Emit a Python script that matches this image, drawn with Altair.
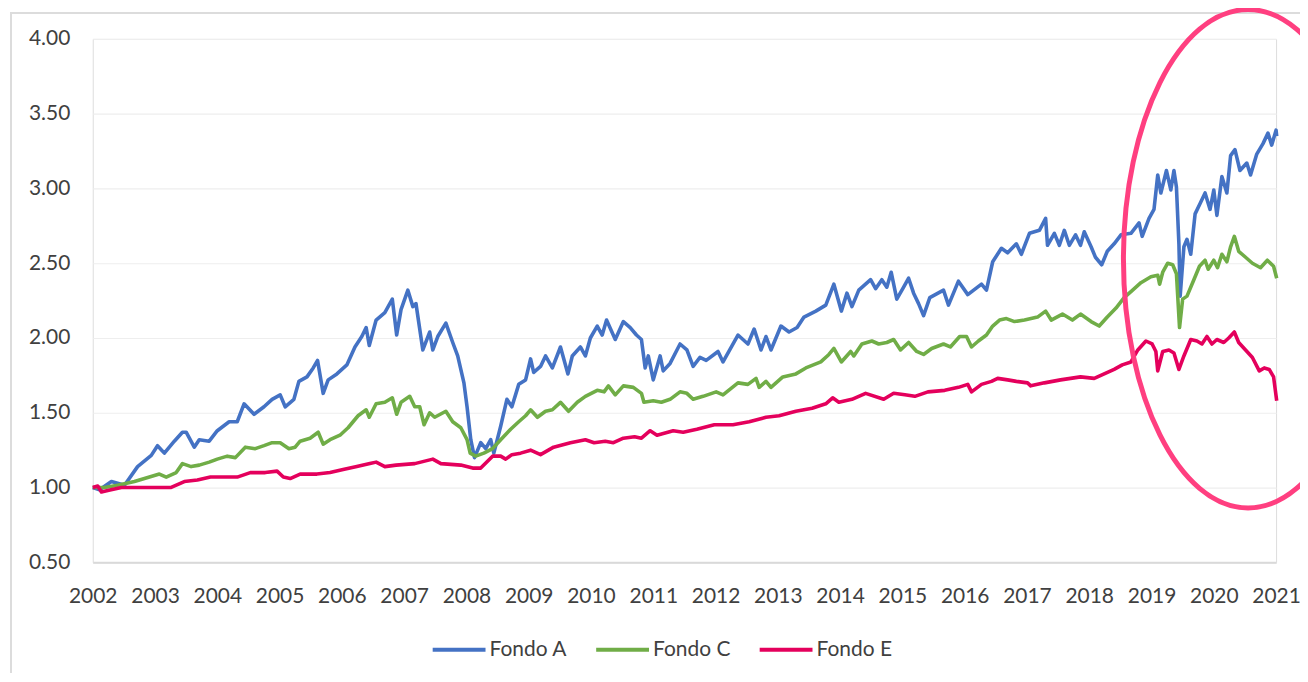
import altair as alt
import pandas as pd

# ---------------- data ----------------
series_names = ["Fondo A", "Fondo C", "Fondo E"]
series_colors = ["#4472C4", "#70AD47", "#E4005C"]

years_a = [2002.00, 2002.11, 2002.30, 2002.51, 2002.72, 2002.94, 2003.04, 2003.15, 2003.31, 2003.44,
           2003.50, 2003.63, 2003.71, 2003.87, 2004.00, 2004.19, 2004.32, 2004.43, 2004.59, 2004.75,
           2004.88, 2005.01, 2005.09, 2005.23, 2005.31, 2005.44, 2005.54, 2005.61, 2005.70, 2005.78,
           2005.92, 2006.08, 2006.21, 2006.32, 2006.39, 2006.44, 2006.55, 2006.69, 2006.81, 2006.88,
           2006.95, 2007.06, 2007.14, 2007.19, 2007.30, 2007.41, 2007.46, 2007.54, 2007.67, 2007.78,
           2007.86, 2007.96, 2008.01, 2008.07, 2008.13, 2008.23, 2008.31, 2008.39, 2008.44, 2008.55,
           2008.65, 2008.73, 2008.84, 2008.95, 2009.03, 2009.08, 2009.19, 2009.27, 2009.38, 2009.51,
           2009.63, 2009.70, 2009.83, 2009.91, 2009.99, 2010.10, 2010.18, 2010.25, 2010.39, 2010.52,
           2010.63, 2010.73, 2010.81, 2010.87, 2010.92, 2011.00, 2011.11, 2011.16, 2011.27, 2011.43,
           2011.54, 2011.64, 2011.75, 2011.85, 2012.04, 2012.12, 2012.36, 2012.52, 2012.62, 2012.73,
           2012.81, 2012.89, 2013.05, 2013.18, 2013.31, 2013.42, 2013.61, 2013.77, 2013.90, 2014.02,
           2014.11, 2014.19, 2014.30, 2014.49, 2014.57, 2014.67, 2014.75, 2014.82, 2014.91, 2015.02,
           2015.10, 2015.18, 2015.26, 2015.34, 2015.44, 2015.66, 2015.74, 2015.90, 2016.05, 2016.27,
           2016.35, 2016.45, 2016.59, 2016.69, 2016.83, 2016.91, 2017.04, 2017.20, 2017.30, 2017.33,
           2017.44, 2017.52, 2017.60, 2017.68, 2017.78, 2017.86, 2017.92, 2018.03, 2018.10, 2018.20,
           2018.29, 2018.40, 2018.51, 2018.67, 2018.80, 2018.85, 2018.96, 2019.04, 2019.10, 2019.15,
           2019.24, 2019.31, 2019.36, 2019.40, 2019.44, 2019.46, 2019.52, 2019.57, 2019.63, 2019.70,
           2019.78, 2019.86, 2019.94, 2020.00, 2020.05, 2020.13, 2020.21, 2020.27, 2020.34, 2020.42,
           2020.53, 2020.59, 2020.69, 2020.79, 2020.87, 2020.93, 2021.00, 2021.01]
vals_a = [1.00, 0.985, 1.04, 1.015, 1.14, 1.215, 1.28, 1.23, 1.31, 1.37,
          1.37, 1.27, 1.32, 1.31, 1.38, 1.44, 1.44, 1.56, 1.49, 1.54,
          1.59, 1.62, 1.54, 1.59, 1.71, 1.74, 1.80, 1.85, 1.63, 1.72,
          1.76, 1.82, 1.94, 2.01, 2.07, 1.95, 2.12, 2.17, 2.26, 2.02,
          2.19, 2.32, 2.21, 2.23, 1.92, 2.04, 1.92, 2.01, 2.10, 1.97,
          1.88, 1.70, 1.54, 1.32, 1.20, 1.30, 1.26, 1.32, 1.23, 1.41,
          1.59, 1.54, 1.69, 1.72, 1.86, 1.77, 1.81, 1.88, 1.80, 1.94,
          1.76, 1.88, 1.94, 1.88, 2.00, 2.08, 2.02, 2.12, 1.99, 2.11,
          2.07, 2.02, 1.99, 1.80, 1.88, 1.72, 1.88, 1.78, 1.83, 1.96,
          1.92, 1.81, 1.87, 1.85, 1.91, 1.84, 2.02, 1.96, 2.06, 1.92,
          2.01, 1.92, 2.08, 2.04, 2.07, 2.14, 2.18, 2.22, 2.36, 2.18,
          2.30, 2.21, 2.32, 2.39, 2.33, 2.39, 2.34, 2.44, 2.26, 2.34,
          2.40, 2.30, 2.23, 2.15, 2.27, 2.32, 2.22, 2.38, 2.29, 2.36,
          2.32, 2.51, 2.60, 2.57, 2.63, 2.56, 2.70, 2.72, 2.80, 2.62,
          2.70, 2.62, 2.72, 2.62, 2.69, 2.62, 2.71, 2.61, 2.54, 2.49,
          2.58, 2.63, 2.69, 2.70, 2.77, 2.68, 2.80, 2.86, 3.09, 2.97,
          3.12, 2.99, 3.12, 3.01, 2.63, 2.28, 2.61, 2.66, 2.56, 2.83,
          2.90, 2.97, 2.86, 2.99, 2.82, 3.08, 2.97, 3.22, 3.26, 3.12,
          3.17, 3.09, 3.23, 3.30, 3.37, 3.29, 3.39, 3.35]

years_c = [2002.00, 2002.19, 2002.40, 2002.67, 2002.91, 2003.07, 2003.18, 2003.34, 2003.44, 2003.58,
           2003.71, 2003.87, 2004.00, 2004.16, 2004.29, 2004.45, 2004.61, 2004.75, 2004.88, 2005.01,
           2005.15, 2005.25, 2005.33, 2005.49, 2005.62, 2005.70, 2005.81, 2005.97, 2006.10, 2006.26,
           2006.39, 2006.44, 2006.55, 2006.69, 2006.81, 2006.88, 2006.95, 2007.09, 2007.17, 2007.25,
           2007.32, 2007.41, 2007.49, 2007.67, 2007.78, 2007.91, 2008.01, 2008.06, 2008.15, 2008.28,
           2008.42, 2008.55, 2008.71, 2008.84, 2008.95, 2009.03, 2009.14, 2009.27, 2009.38, 2009.51,
           2009.64, 2009.78, 2009.91, 2010.10, 2010.21, 2010.28, 2010.39, 2010.52, 2010.68, 2010.81,
           2010.85, 2011.00, 2011.13, 2011.27, 2011.43, 2011.54, 2011.64, 2011.80, 2012.01, 2012.12,
           2012.36, 2012.52, 2012.65, 2012.70, 2012.81, 2012.89, 2013.08, 2013.29, 2013.45, 2013.69,
           2013.82, 2013.90, 2014.02, 2014.17, 2014.22, 2014.35, 2014.51, 2014.62, 2014.75, 2014.86,
           2014.97, 2015.10, 2015.23, 2015.34, 2015.47, 2015.66, 2015.77, 2015.92, 2016.03, 2016.11,
           2016.22, 2016.35, 2016.45, 2016.56, 2016.67, 2016.80, 2016.96, 2017.17, 2017.30, 2017.39,
           2017.57, 2017.73, 2017.86, 2018.03, 2018.16, 2018.29, 2018.43, 2018.56, 2018.67, 2018.83,
           2018.99, 2019.10, 2019.13, 2019.18, 2019.26, 2019.34, 2019.40, 2019.45, 2019.50, 2019.57,
           2019.68, 2019.77, 2019.86, 2019.91, 2020.00, 2020.06, 2020.13, 2020.21, 2020.27, 2020.33,
           2020.40, 2020.51, 2020.62, 2020.75, 2020.86, 2020.96, 2021.01]
vals_c = [1.00, 1.00, 1.015, 1.04, 1.07, 1.09, 1.07, 1.10, 1.16, 1.14,
          1.15, 1.17, 1.19, 1.21, 1.20, 1.27, 1.26, 1.28, 1.30, 1.30,
          1.26, 1.27, 1.31, 1.33, 1.37, 1.29, 1.32, 1.35, 1.40, 1.48,
          1.52, 1.47, 1.56, 1.57, 1.60, 1.49, 1.57, 1.61, 1.54, 1.54,
          1.42, 1.50, 1.47, 1.51, 1.44, 1.40, 1.32, 1.23, 1.21, 1.23,
          1.26, 1.32, 1.39, 1.44, 1.48, 1.52, 1.47, 1.51, 1.52, 1.57,
          1.51, 1.57, 1.61, 1.65, 1.64, 1.68, 1.62, 1.68, 1.67, 1.63,
          1.57, 1.58, 1.57, 1.59, 1.64, 1.63, 1.59, 1.61, 1.64, 1.62,
          1.70, 1.69, 1.73, 1.67, 1.71, 1.67, 1.74, 1.76, 1.80, 1.84,
          1.89, 1.93, 1.84, 1.91, 1.88, 1.96, 1.98, 1.96, 1.97, 1.99,
          1.92, 1.97, 1.91, 1.89, 1.93, 1.96, 1.94, 2.01, 2.01, 1.94,
          1.98, 2.02, 2.08, 2.12, 2.13, 2.11, 2.12, 2.14, 2.18, 2.12,
          2.16, 2.12, 2.16, 2.11, 2.08, 2.14, 2.20, 2.27, 2.31, 2.37,
          2.41, 2.42, 2.36, 2.44, 2.50, 2.49, 2.43, 2.07, 2.26, 2.28,
          2.39, 2.48, 2.52, 2.46, 2.52, 2.47, 2.56, 2.51, 2.61, 2.68,
          2.58, 2.54, 2.50, 2.47, 2.52, 2.48, 2.40]

years_e = [2002.00, 2002.08, 2002.14, 2002.24, 2002.46, 2002.72, 2002.99, 2003.25, 2003.47, 2003.68,
           2003.89, 2004.11, 2004.32, 2004.53, 2004.77, 2004.96, 2005.06, 2005.17, 2005.33, 2005.60,
           2005.81, 2006.02, 2006.24, 2006.45, 2006.55, 2006.69, 2006.87, 2007.17, 2007.46, 2007.59,
           2007.91, 2008.10, 2008.23, 2008.42, 2008.55, 2008.63, 2008.73, 2008.87, 2009.03, 2009.19,
           2009.40, 2009.67, 2009.91, 2010.05, 2010.23, 2010.36, 2010.52, 2010.70, 2010.81, 2010.95,
           2011.06, 2011.32, 2011.48, 2011.70, 2011.98, 2012.28, 2012.54, 2012.81, 2013.02, 2013.29,
           2013.55, 2013.77, 2013.88, 2013.98, 2014.19, 2014.41, 2014.70, 2014.86, 2015.04, 2015.20,
           2015.41, 2015.68, 2015.90, 2016.05, 2016.11, 2016.27, 2016.43, 2016.53, 2016.69, 2016.83,
           2017.01, 2017.06, 2017.28, 2017.54, 2017.86, 2018.08, 2018.24, 2018.40, 2018.53, 2018.67,
           2018.78, 2018.91, 2019.01, 2019.07, 2019.10, 2019.18, 2019.28, 2019.36, 2019.44, 2019.52,
           2019.63, 2019.73, 2019.81, 2019.89, 2019.97, 2020.05, 2020.16, 2020.24, 2020.33, 2020.40,
           2020.51, 2020.62, 2020.73, 2020.81, 2020.89, 2020.96, 2021.01]
vals_e = [1.00, 1.01, 0.97, 0.98, 1.00, 1.00, 1.00, 1.00, 1.04, 1.05,
          1.07, 1.07, 1.07, 1.10, 1.10, 1.11, 1.07, 1.06, 1.09, 1.09,
          1.10, 1.12, 1.14, 1.16, 1.17, 1.14, 1.15, 1.16, 1.19, 1.16,
          1.15, 1.13, 1.13, 1.21, 1.21, 1.19, 1.22, 1.23, 1.25, 1.22,
          1.27, 1.30, 1.32, 1.30, 1.31, 1.30, 1.33, 1.34, 1.33, 1.38,
          1.35, 1.38, 1.37, 1.39, 1.42, 1.42, 1.44, 1.47, 1.48, 1.51,
          1.53, 1.56, 1.60, 1.57, 1.59, 1.63, 1.59, 1.63, 1.62, 1.61,
          1.64, 1.65, 1.67, 1.69, 1.64, 1.69, 1.71, 1.73, 1.72, 1.71,
          1.70, 1.68, 1.70, 1.72, 1.74, 1.73, 1.76, 1.79, 1.82, 1.84,
          1.92, 1.98, 1.96, 1.91, 1.78, 1.91, 1.92, 1.90, 1.79, 1.88,
          1.99, 1.98, 1.96, 2.01, 1.96, 1.99, 1.97, 2.00, 2.04, 1.97,
          1.92, 1.87, 1.78, 1.80, 1.79, 1.74, 1.58]

x_tick_values = list(range(2002, 2022))
y_tick_values = [0.5, 1.0, 1.5, 2.0, 2.5, 3.0, 3.5, 4.0]

# annotation ellipse centre (data coordinates)
ellipse_year = [2020.55]
ellipse_value = [2.53]

# ---------------- build table ----------------
rows = []
for name, ys, vs in zip(series_names, [years_a, years_c, years_e], [vals_a, vals_c, vals_e]):
    for yy, vv in zip(ys, vs):
        rows.append({"year": yy, "value": vv, "fondo": name})
df = pd.DataFrame(rows)

FONT = "Lato"
TXT = "#404040"
FS = 21

x_enc = alt.X(
    "year:Q",
    scale=alt.Scale(domain=[2002, 2021], nice=False, zero=False),
    axis=alt.Axis(values=x_tick_values, format="d", title=None, grid=False, ticks=False,
                  domainColor="#d9d9d9", domainWidth=2, labelFontSize=FS, labelPadding=23,
                  labelFlush=False, labelOverlap=False, labelColor=TXT, labelFont=FONT),
)
y_enc = alt.Y(
    "value:Q",
    scale=alt.Scale(domain=[0.5, 4.0], nice=False, zero=False),
    axis=alt.Axis(values=y_tick_values, format=".2f", title=None, grid=True, gridColor="#eeeeee",
                  gridWidth=1.2, ticks=False, domain=False, labelFontSize=FS, labelPadding=23,
                  labelColor=TXT, labelFont=FONT),
)

frame = alt.Chart(pd.DataFrame({"k": [0]})).mark_rect(
    fillOpacity=0, stroke="#dcdcdc", strokeWidth=2
).encode(x=alt.value(-82), x2=alt.value(1400), y=alt.value(-26), y2=alt.value(700))

lines = alt.Chart(df).mark_line(strokeWidth=3.6, strokeJoin="round").encode(
    x=x_enc,
    y=y_enc,
    color=alt.Color(
        "fondo:N",
        scale=alt.Scale(domain=series_names, range=series_colors),
        legend=alt.Legend(title=None, orient="none", legendX=339, legendY=584, direction="horizontal",
                          symbolType="stroke", symbolSize=2809, symbolStrokeWidth=4,
                          labelFontSize=FS, labelFont=FONT, labelColor=TXT, labelOffset=2,
                          columnPadding=21, padding=0),
    ),
)

ellipse_path = ("M0,-1 C0.27614,-1 0.5,-0.55228 0.5,0 C0.5,0.55228 0.27614,1 0,1 "
                "C-0.27614,1 -0.5,0.55228 -0.5,0 C-0.5,-0.55228 -0.27614,-1 0,-1 Z")
ellipse = alt.Chart(pd.DataFrame({"year": ellipse_year, "value": ellipse_value})).mark_point(
    shape=ellipse_path, size=250000, filled=False, strokeWidth=5, color="#FF3F80", opacity=1
).encode(x="year:Q", y="value:Q")

chart = alt.layer(frame, lines, ellipse).properties(
    width=1187, height=525,
    autosize=alt.AutoSizeParams(type="none"),
    padding={"left": 85, "top": 30, "right": 24, "bottom": 110},
).configure_view(stroke=None).configure(font=FONT, background="white")

chart.save("out.html", embed_options={"renderer": "svg", "actions": False})
